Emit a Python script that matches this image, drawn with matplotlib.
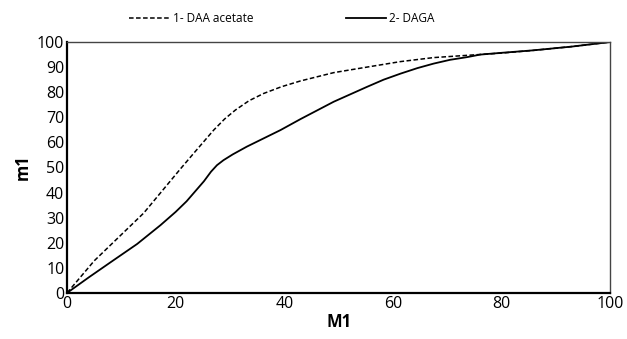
import matplotlib.pyplot as plt

# values
daa_x = [0, 5, 14.1, 20.9, 23.3, 27, 29, 31, 33.5, 36.2, 39.5, 43, 49.1, 55.2, 61.4, 67.5, 73.7, 80, 86, 93, 100]
daa_y = [0, 12.8, 31.8, 49.5, 55.6, 64.9, 69.3, 72.9, 76.6, 79.5, 82.2, 84.5, 87.8, 90, 92.2, 93.8, 94.7, 95.6, 96.7, 98.2, 100]

daga_x = [0, 4, 8, 12.9, 17.2, 20, 22, 25.2, 26.5, 27.6, 28.8, 30.5, 33.1, 39.3, 43, 49.1, 55.2, 58.3, 61.4, 64.5, 67.5, 70.5, 73.7, 76.1, 80, 85.9, 93, 100]
daga_y = [0, 6.2, 12.2, 19.5, 27, 32.3, 36.5, 44.5, 48.3, 50.9, 52.9, 55.2, 58.3, 64.9, 69.3, 76.2, 82.1, 85, 87.4, 89.6, 91.4, 92.9, 94, 95, 95.7, 96.7, 98.2, 100]

labels = ['1- DAA acetate', '2- DAGA']

plt.rcParams['font.family'] = ['Open Sans', 'DejaVu Sans']

fig = plt.figure(figsize=(6.27, 3.39), dpi=100)
ax = fig.add_axes([0.107, 0.136, 0.866, 0.740])

l1, = ax.plot(daa_x, daa_y, color='black', lw=1.1, ls=(0, (3, 1.6)), label=labels[0])
l2, = ax.plot(daga_x, daga_y, color='black', lw=1.3, ls='-', label=labels[1])

ax.set_xlim(0, 100)
ax.set_ylim(0, 100)
ax.set_xticks(range(0, 101, 20))
ax.set_yticks(range(0, 101, 10))
ax.tick_params(length=0, labelsize=11.5, pad=2)

for side in ['left', 'bottom']:
    ax.spines[side].set_linewidth(1.6)
for side in ['top', 'right']:
    ax.spines[side].set_linewidth(1.0)
    ax.spines[side].set_color('#444444')

ax.set_xlabel('M1', fontsize=12, fontweight='bold', labelpad=1)
ax.set_ylabel('m1', fontsize=12, fontweight='bold', labelpad=4)

fig.legend(handles=[l1, l2], loc='center', bbox_to_anchor=(0.45, 0.945), ncol=2,
           frameon=False, fontsize=8.5, handlelength=3.4, handletextpad=0.3,
           columnspacing=7.8)

fig.savefig('out.png', dpi=100)
